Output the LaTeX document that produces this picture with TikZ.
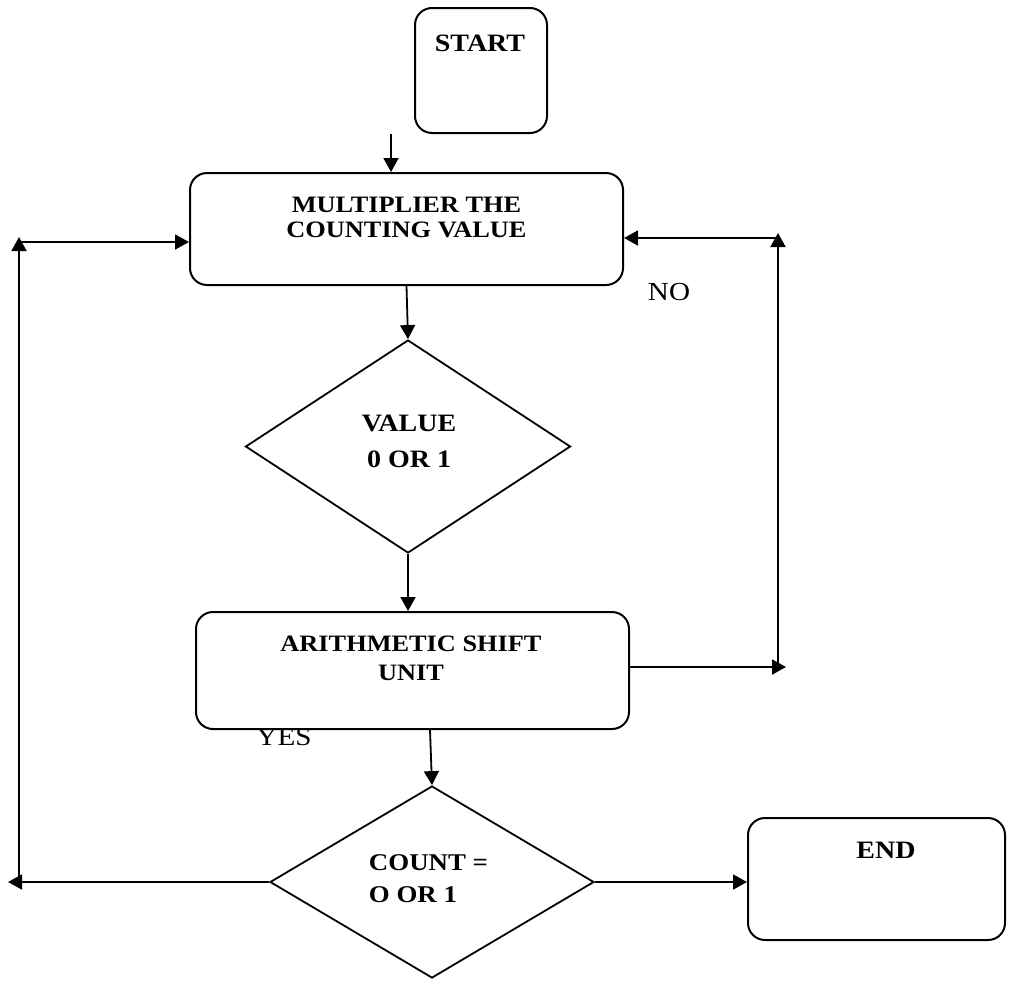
\documentclass[tikz,border=0pt]{standalone}
\usepackage{fontspec}
\setmainfont{Liberation Serif}[FakeStretch=1.12]
\usetikzlibrary{shapes.geometric, arrows.meta, calc}

\begin{document}
\begin{tikzpicture}[x=1pt, y=-1pt,
  every node/.style={align=center, inner sep=0pt},
  flowbox/.style={draw, line width=2pt, rounded corners=17pt, fill=white},
  decision/.style={draw, diamond, line width=1.8pt, fill=white, aspect=1},
  boxtext/.style={font=\fontsize{23.5}{25}\selectfont\bfseries},
  answer/.style={font=\fontsize{26}{28}\selectfont},
  flow/.style={line width=1.8pt, -{Triangle[length=14pt, width=15pt]}},
]
  \useasboundingbox (0,0) rectangle (1011,983);

  \node[answer] (yes) at (284,737.5) {YES};
  \node[answer] (no) at (669,292.5) {NO};

  \node[flowbox, minimum width=132pt, minimum height=125pt] (start) at (481,70.5) {};
  \node[boxtext, font=\fontsize{25}{26}\selectfont\bfseries] (starttxt) at (480,43) {START};

  \node[flowbox, minimum width=433pt, minimum height=112pt] (mult) at (406.5,229) {};
  \node[boxtext] (multtxt) at (406.5,217) {MULTIPLIER THE\\COUNTING VALUE};

  \node[decision, minimum width=325pt, minimum height=213pt] (dia1) at (408,446.5) {};
  \node[boxtext, font=\fontsize{25}{36}\selectfont\bfseries] (dia1txt) at (409,441) {VALUE\\0 OR 1};

  \node[flowbox, minimum width=433pt, minimum height=117pt] (arith) at (412.5,670.5) {};
  \node[boxtext, font=\fontsize{23.5}{29}\selectfont\bfseries] (arithtxt) at (411,658) {ARITHMETIC SHIFT\\UNIT};

  \node[decision, minimum width=324pt, minimum height=192pt] (dia2) at (432,882) {};
  \node[boxtext, align=left, font=\fontsize{24}{32}\selectfont\bfseries] (dia2txt) at (428.5,879) {COUNT =\\O OR 1};

  \node[flowbox, minimum width=257pt, minimum height=122pt] (end) at (876.5,879) {};
  \node[boxtext, font=\fontsize{25}{26}\selectfont\bfseries] (endtxt) at (886,850) {END};

  \coordinate (s1) at ($(start.south west)+(-23,0)$);
  \draw[flow] (s1) -- (s1 |- mult.north);
  \draw[flow] (mult.south) -- (dia1.north);
  \draw[flow] (dia1.south) -- (dia1.south |- arith.north);
  \draw[flow] ($(arith.south)+(17.5,0)$) -- (dia2.north);
  \draw[flow] (dia2.east) -- (dia2.east -| end.west);

  \coordinate (lefttip) at (8,882);
  \coordinate (leftcol) at (19,237);
  \coordinate (multin) at ($(mult.west)+(0,13)$);
  \draw[flow] (dia2.west) -- (lefttip);
  \draw[flow] (leftcol |- dia2.west) -- (leftcol);
  \draw[flow] (multin -| leftcol) -- (multin);

  \coordinate (righttip) at (786,233);
  \coordinate (rightcol) at (778,233);
  \coordinate (arithout) at ($(arith.east)+(0,-3.5)$);
  \coordinate (multback) at ($(mult.east)+(0,9)$);
  \draw[flow] (arithout) -- (arithout -| righttip);
  \draw[flow] (arithout -| rightcol) -- (rightcol);
  \draw[flow] (multback -| rightcol) -- (multback);
\end{tikzpicture}
\end{document}
